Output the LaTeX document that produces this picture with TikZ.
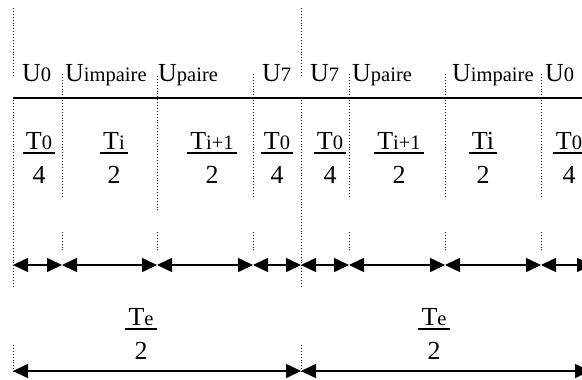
\documentclass[tikz,border=0pt]{standalone}
\usepackage{fontspec}
\setmainfont{Liberation Serif}
\usetikzlibrary{arrows.meta}
% small index letters set on the baseline
\newcommand\lo[1]{{\fontsize{20.5}{20.5}\selectfont #1}}
\tikzset{
  txt/.style={inner sep=0pt, font=\fontsize{26}{26}\selectfont},
  guide/.style={dotted, line width=0.9pt},
  fracbar/.style={line width=1.3pt},
  span/.style={line width=1.6pt, {Triangle[length=15pt,width=14pt]}-{Triangle[length=15pt,width=14pt]}},
}
% fraction: name, x, y of bar, numerator, denominator
\newcommand\fracat[5]{%
  \node[txt,anchor=base] (#1n) at (#2,#3-4) {#4};
  \node[txt,anchor=base] (#1d) at (#2,#3+30) {#5};
  \draw[fracbar] ([xshift=-3pt,yshift=-4pt]#1n.base west) -- ([xshift=3pt,yshift=-4pt]#1n.base east);
}
\begin{document}
\begin{tikzpicture}[x=1pt,y=-1pt]
\useasboundingbox (0,0) rectangle (582,380);

% time axis
\coordinate (ax0) at (13,98);
\coordinate (ax1) at (582,98);
\draw[line width=1.6pt] (ax0) -- (ax1);

% long guides at the start and the middle of the period
\foreach \x in {13,301} {
  \draw[guide] (\x,8) -- (\x,77);
  \draw[guide] (\x,100) -- (\x,288);
  \draw[guide] (\x,345) -- (\x,374);
}
% guides at the switching instants
\foreach \x in {62,253,349,445,541} {
  \draw[guide] (\x,74) -- (\x,196);
}
\draw[guide] (157,76) -- (157,210);
\foreach \x in {62,157,253,349,445,541} {
  \draw[guide] (\x,232) -- (\x,252);
}

% vector labels
\node[txt,anchor=base west] (u1) at (22,81) {U\lo{0}};
\node[txt,anchor=base west] (u2) at (65,81) {U\lo{impaire}};
\node[txt,anchor=base west] (u3) at (158,81) {U\lo{paire}};
\node[txt,anchor=base west] (u4) at (262,81) {U\lo{7}};
\node[txt,anchor=base west] (u5) at (310,81) {U\lo{7}};
\node[txt,anchor=base west] (u6) at (352,81) {U\lo{paire}};
\node[txt,anchor=base west] (u7) at (452,81) {U\lo{impaire}};
\node[txt,anchor=base west] (u8) at (545,81) {U\lo{0}};

% durations
\fracat{f1}{39}{153}{T\lo{0}}{4}
\fracat{f2}{114}{153}{T\lo{i}}{2}
\fracat{f3}{212}{153}{T\lo{i+1}}{2}
\fracat{f4}{277}{153}{T\lo{0}}{4}
\fracat{f5}{330}{153}{T\lo{0}}{4}
\fracat{f6}{399}{153}{T\lo{i+1}}{2}
\fracat{f7}{483}{153}{Ti}{2}
\fracat{f8}{569}{153}{T\lo{0}}{4}
\fracat{g1}{141}{329}{T\lo{e}}{2}
\fracat{g2}{434}{329}{T\lo{e}}{2}

% interval arrows
\foreach \n/\x in {0/13,1/62,2/157,3/253,4/301,5/349,6/445,7/541,8/592} {
  \coordinate (s\n) at (\x,265);
}
\foreach \a/\b in {0/1,1/2,2/3,3/4,4/5,5/6,6/7,7/8} {
  \draw[span] (s\a) -- (s\b);
}
\coordinate (h0) at (13,371);
\coordinate (h1) at (301,371);
\coordinate (h2) at (590,371);
\draw[span] (h0) -- (h1);
\draw[span] (h1) -- (h2);
\end{tikzpicture}
\end{document}
